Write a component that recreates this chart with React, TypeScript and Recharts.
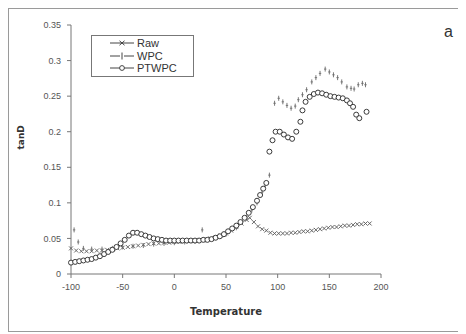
import React from "react";
import { ScatterChart, Scatter, XAxis, YAxis } from "recharts";

// temperature / tanD readings per sample
const rawTemp = [
  -100, -95, -90, -85, -80, -75, -70, -65, -60, -55, -50, -45, -40, -35, -30,
  -25, -20, -15, -10, -5, 0, 5, 10, 15, 20, 25, 30, 35, 40, 45, 50, 55, 60, 65,
  70, 73, 77, 81, 85, 89, 93, 97, 101, 105, 109, 113, 117, 121, 125, 129, 133,
  137, 141, 145, 149, 153, 157, 161, 165, 169, 173, 177, 181, 185, 189,
];
const rawTanD = [
  0.036, 0.033, 0.032, 0.032, 0.032, 0.033, 0.033, 0.034, 0.035, 0.036, 0.037,
  0.038, 0.039, 0.04, 0.041, 0.042, 0.043, 0.043, 0.044, 0.044, 0.045, 0.045,
  0.046, 0.046, 0.047, 0.048, 0.049, 0.05, 0.052, 0.054, 0.057, 0.061, 0.066,
  0.071, 0.076, 0.079, 0.073, 0.067, 0.063, 0.061, 0.058, 0.057, 0.057, 0.057,
  0.057, 0.058, 0.058, 0.059, 0.06, 0.06, 0.061, 0.062, 0.063, 0.064, 0.065,
  0.066, 0.066, 0.067, 0.068, 0.068, 0.069, 0.07, 0.07, 0.071, 0.071,
];

const wpcTemp = [
  -97, -93, -88, -80, -70, -60, -50, -40, -30, -20, -10, 0, 10, 20, 27, 30, 40,
  50, 60, 70, 75, 80, 85, 88, 92, 97, 101, 105, 109, 113, 117, 120, 124, 128,
  133, 137, 141, 146, 150, 154, 158, 162, 167, 171, 174, 178, 182, 185,
];
const wpcTanD = [
  0.062, 0.045, 0.036, 0.035, 0.035, 0.036, 0.038, 0.039, 0.04, 0.042, 0.043,
  0.044, 0.045, 0.046, 0.062, 0.048, 0.051, 0.056, 0.065, 0.08, 0.09, 0.1,
  0.115, 0.125, 0.139, 0.24, 0.247, 0.242, 0.237, 0.233, 0.236, 0.245, 0.252,
  0.259, 0.27, 0.276, 0.282, 0.288, 0.284, 0.28, 0.276, 0.27, 0.263, 0.261,
  0.26, 0.266, 0.268, 0.266,
];

const ptwpcTemp = [
  -100, -96, -92, -88, -84, -80, -76, -72, -68, -64, -60, -56, -52, -48, -44,
  -40, -36, -32, -28, -24, -20, -16, -12, -8, -4, 0, 4, 8, 12, 16, 20, 24, 28,
  32, 36, 40, 44, 48, 52, 56, 60, 64, 68, 72, 76, 80, 83, 86, 89, 92, 95, 98,
  102, 106, 110, 114, 118, 122, 124, 127, 131, 135, 139, 143, 147, 151, 155,
  159, 163, 167, 170, 173, 176, 179, 186,
];
const ptwpcTanD = [
  0.016, 0.017, 0.018, 0.019, 0.02, 0.021, 0.023, 0.025, 0.028, 0.031, 0.034,
  0.038, 0.043, 0.048, 0.054, 0.058, 0.058, 0.056, 0.054, 0.052, 0.05, 0.049,
  0.048, 0.047, 0.047, 0.047, 0.047, 0.047, 0.047, 0.047, 0.047, 0.047, 0.048,
  0.048, 0.049, 0.051, 0.053, 0.056, 0.06, 0.064, 0.068, 0.073, 0.079, 0.086,
  0.094, 0.103, 0.111, 0.12, 0.128, 0.172, 0.188, 0.2, 0.2, 0.196, 0.192, 0.19,
  0.2, 0.214, 0.23, 0.242, 0.249, 0.253, 0.255, 0.254, 0.252, 0.25, 0.249,
  0.248, 0.247, 0.244, 0.24, 0.235, 0.224, 0.219, 0.228,
];

const xTicks = [-100, -50, 0, 50, 100, 150, 200];
const yTicks = [0, 0.05, 0.1, 0.15, 0.2, 0.25, 0.3, 0.35];

const toPoints = (xs: number[], ys: number[]) =>
  xs.map((t, i) => ({ temp: t, tanD: ys[i] }));

const rawData = toPoints(rawTemp, rawTanD);
const wpcData = toPoints(wpcTemp, wpcTanD);
const ptwpcData = toPoints(ptwpcTemp, ptwpcTanD);

const ink = "#3a3a3a";

const Cross = (p: any) => (
  <path
    d={`M${p.cx - 2},${p.cy - 2}L${p.cx + 2},${p.cy + 2}M${p.cx - 2},${p.cy + 2}L${p.cx + 2},${p.cy - 2}`}
    stroke="#5a5a5a"
    strokeWidth={0.9}
    fill="none"
  />
);
const Bar = (p: any) => (
  <path
    d={`M${p.cx},${p.cy - 2.5}L${p.cx},${p.cy + 2.5}M${p.cx - 1.2},${p.cy}L${p.cx + 1.2},${p.cy}`}
    stroke="#6a6a6a"
    strokeWidth={0.9}
    fill="none"
  />
);
const Ring = (p: any) => (
  <circle cx={p.cx} cy={p.cy} r={2.5} stroke={ink} strokeWidth={1} fill="#fff" />
);

const legendItems = [
  { name: "Raw", mark: "x" },
  { name: "WPC", mark: "|" },
  { name: "PTWPC", mark: "o" },
];

function LegendBox() {
  return (
    <div
      style={{
        position: "absolute",
        left: 82,
        top: 26,
        border: "1px solid #777",
        background: "#fff",
        padding: "1px 6px 1px 17px",
        width: 78,
        fontFamily: "Arial, 'Liberation Sans', sans-serif",
        fontSize: 11,
        lineHeight: "12.5px",
        color: "#333",
      }}
    >
      {legendItems.map((it) => (
        <div key={it.name} style={{ display: "flex", alignItems: "center" }}>
          <svg width={26} height={10} style={{ marginRight: 2 }}>
            <line x1={1} y1={5} x2={25} y2={5} stroke="#444" strokeWidth={1} />
            {it.mark === "x" && (
              <path d="M10.5,2.8L15.5,7.2M10.5,7.2L15.5,2.8" stroke="#444" strokeWidth={1} />
            )}
            {it.mark === "|" && (
              <rect x={11} y={1} width={4} height={8} fill="#fff" stroke="none" />
            )}
            {it.mark === "|" && <line x1={13} y1={1.5} x2={13} y2={8.5} stroke="#444" />}
            {it.mark === "o" && (
              <circle cx={13} cy={5} r={2.4} fill="#fff" stroke="#444" />
            )}
          </svg>
          <span>{it.name}</span>
        </div>
      ))}
    </div>
  );
}

export default function App() {
  return (
    <div
      style={{
        position: "relative",
        width: 456,
        height: 322,
        border: "1px solid #9a9a9a",
        background: "#fff",
      }}
    >
      <ScatterChart
        width={456}
        height={322}
        margin={{ top: 16, right: 84, left: 10, bottom: 15 }}
      >
        <XAxis
          type="number"
          dataKey="temp"
          domain={[-100, 200]}
          ticks={xTicks}
          tickSize={4}
          tickMargin={6}
          stroke="#777"
          tick={{ fontSize: 9, fill: "#555", fontFamily: "Arial, sans-serif" }}
          height={42}
          label={{
            value: "Temperature",
            position: "insideBottom",
            offset: 1,
            style: {
              fontSize: 10,
              fontWeight: "bold",
              fill: "#333",
              fontFamily: "Verdana, 'DejaVu Sans', sans-serif",
            },
          }}
        />
        <YAxis
          type="number"
          dataKey="tanD"
          domain={[0, 0.35]}
          ticks={yTicks}
          tickSize={4}
          tickMargin={6}
          stroke="#777"
          width={52}
          tick={{ fontSize: 9, fill: "#555", fontFamily: "Arial, sans-serif" }}
          label={{
            value: "tanD",
            angle: -90,
            position: "insideLeft",
            offset: 2,
            style: {
              fontSize: 9,
              fontWeight: "bold",
              fill: "#333",
              fontFamily: "Verdana, 'DejaVu Sans', sans-serif",
            },
          }}
        />
        <Scatter name="Raw" data={rawData} shape={Cross} isAnimationActive={false} />
        <Scatter name="WPC" data={wpcData} shape={Bar} isAnimationActive={false} />
        <Scatter name="PTWPC" data={ptwpcData} shape={Ring} isAnimationActive={false} />
      </ScatterChart>
      <LegendBox />
      <div
        style={{
          position: "absolute",
          left: 435,
          top: 14,
          fontSize: 16,
          fontFamily: "Arial, sans-serif",
          color: "#333",
        }}
      >
        a
      </div>
    </div>
  );
}
